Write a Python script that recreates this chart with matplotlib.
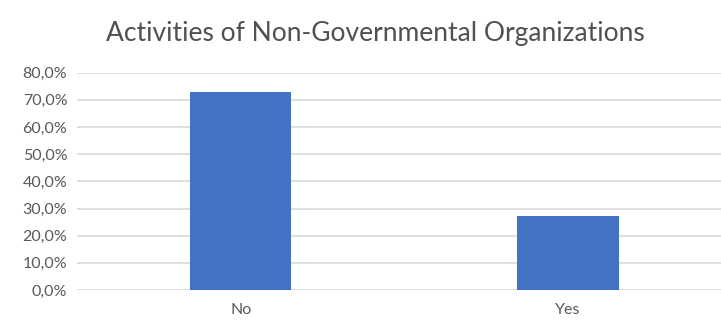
import matplotlib.pyplot as plt
from matplotlib.ticker import FuncFormatter

categories = ['No', 'Yes']
values = [72.8, 27.2]
yticks = [0, 10, 20, 30, 40, 50, 60, 70, 80]

plt.rcParams['font.family'] = ['Lato', 'DejaVu Sans']
grey = '#595959'

fig = plt.figure(figsize=(7.21, 3.22), dpi=100)
ax = fig.add_axes([77 / 721, 32 / 322, 644 / 721, 217.3 / 322])

ax.bar(range(len(categories)), values, width=0.31, color='#4472C4', zorder=3)

ax.set_xlim(-0.5, 1.467)
ax.set_ylim(0, 80)
ax.set_yticks(yticks)
ax.yaxis.set_major_formatter(FuncFormatter(lambda v, p: f'{v:.1f}%'.replace('.', ',')))
ax.set_xticks(range(len(categories)))
ax.set_xticklabels(categories)
ax.grid(axis='y', color='#D9D9D9', linewidth=1.2, zorder=0)
for s in ax.spines.values():
    s.set_visible(False)
ax.tick_params(axis='both', length=0, colors=grey, labelsize=11.5)
ax.tick_params(axis='y', pad=7)
ax.tick_params(axis='x', pad=9)

fig.text(0.52, 0.895, 'Activities of Non-Governmental Organizations',
         ha='center', va='center', fontsize=19, color='#505050')

fig.savefig('out.png', dpi=100)
